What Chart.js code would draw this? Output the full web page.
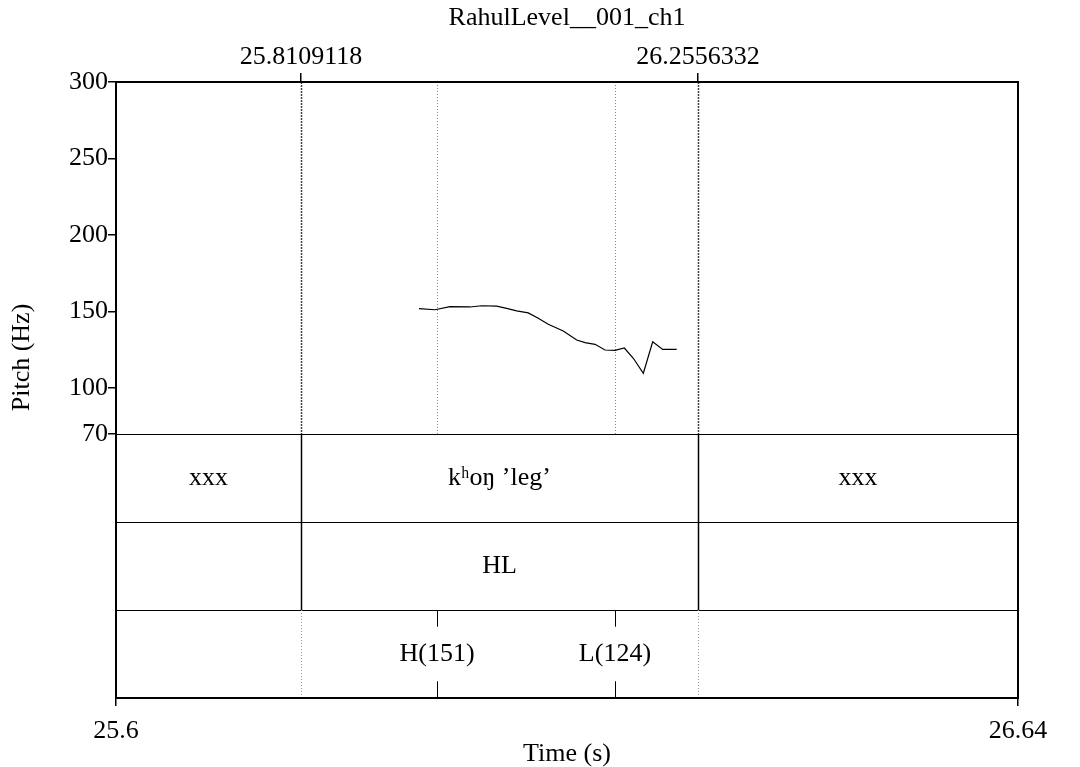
<!DOCTYPE html>
<html>
<head>
<meta charset="utf-8">
<script src="https://cdn.jsdelivr.net/npm/chart.js@4.4.1/dist/chart.umd.min.js"></script>
<style>
  html, body { margin: 0; padding: 0; background: #fff; }
  #wrap { width: 1080px; height: 767px; }
</style>
</head>
<body>
<div id="wrap"><canvas id="pitch"></canvas></div>
<script>
// sound / time window
const fileName = 'RahulLevel__001_ch1';
const timeStart = 25.6037;
const timeEnd = 26.6141;
const timeTickLabels = ['25.6', '26.64'];

// interval boundaries (shown on top axis)
const boundaryTimes = [25.8109118, 26.2556332];
const boundaryLabels = ['25.8109118', '26.2556332'];

// pitch ticks
const pitchTicks = [70, 100, 150, 200, 250, 300];

// pitch contour
const pitchTimes = [25.9431, 25.9610, 25.9778, 26.0002, 26.0133, 26.0301, 26.0413, 26.0525,
  26.0655, 26.0767, 26.0879, 26.1047, 26.1198, 26.1291, 26.1403, 26.1515, 26.1627, 26.1731,
  26.1832, 26.1944, 26.2049, 26.2161, 26.2318];
const pitchHz = [151.9, 151.2, 153.2, 153.0, 153.8, 153.6, 152.1, 150.4, 149.1, 145.6, 141.7,
  137.3, 131.4, 129.7, 128.6, 124.9, 124.7, 126.2, 119.5, 109.7, 130.3, 125.3, 125.3];

// textgrid tiers
const wordLabels = ['xxx', 'k\u02B0o\u014B \u2019leg\u2019', 'xxx'];
const toneLabels = ['', 'HL', ''];
const pointTimes = [25.9633, 26.1626];
const pointLabels = ['H(151)', 'L(124)'];

const FONT = '"Liberation Serif", "Times New Roman", serif';
const pitchBottom = 70;
const tierSpan = 57.5;   // y units per tier row
const tierCount = 3;

Chart.defaults.font.family = FONT;
Chart.defaults.font.size = 26;
Chart.defaults.color = '#000';

const crisp = v => Math.round(v) + 0.5;

const textgrid = {
  id: 'textgrid',
  beforeDatasetsDraw(chart) {
    const {ctx, chartArea} = chart;
    const x = chart.scales.x, y = chart.scales.y;
    const yTop = chartArea.top, y70 = y.getPixelForValue(pitchBottom);
    ctx.save();
    // boundaries over the pitch area
    ctx.strokeStyle = '#444';
    ctx.lineWidth = 1.5;
    ctx.setLineDash([2, 1]);
    boundaryTimes.forEach(t => {
      const px = crisp(x.getPixelForValue(t));
      ctx.beginPath(); ctx.moveTo(px, yTop); ctx.lineTo(px, y70); ctx.stroke();
    });
    // points over the pitch area
    ctx.strokeStyle = '#888';
    ctx.lineWidth = 1;
    ctx.setLineDash([1, 2]);
    pointTimes.forEach(t => {
      const px = crisp(x.getPixelForValue(t));
      ctx.beginPath(); ctx.moveTo(px, yTop); ctx.lineTo(px, y70); ctx.stroke();
    });
    ctx.restore();
  },
  afterDraw(chart) {
    const {ctx, chartArea} = chart;
    const x = chart.scales.x, y = chart.scales.y;
    const rows = [];
    for (let i = 0; i <= tierCount; i++) rows.push(y.getPixelForValue(pitchBottom - i * tierSpan));
    const edges = [timeStart, ...boundaryTimes, timeEnd].map(t => x.getPixelForValue(t));
    ctx.save();
    // tier separators
    ctx.strokeStyle = '#000';
    ctx.lineWidth = 1;
    for (let i = 0; i < tierCount; i++) {
      const py = crisp(rows[i]);
      ctx.beginPath(); ctx.moveTo(chartArea.left, py); ctx.lineTo(chartArea.right, py); ctx.stroke();
    }
    // interval boundaries in tiers 1 and 2
    ctx.lineWidth = 1.5;
    boundaryTimes.forEach(t => {
      const px = crisp(x.getPixelForValue(t));
      ctx.beginPath(); ctx.moveTo(px, rows[0]); ctx.lineTo(px, rows[2]); ctx.stroke();
    });
    // boundaries carried through point tier
    ctx.strokeStyle = '#999';
    ctx.lineWidth = 1;
    ctx.setLineDash([1, 2]);
    boundaryTimes.forEach(t => {
      const px = crisp(x.getPixelForValue(t));
      ctx.beginPath(); ctx.moveTo(px, rows[2]); ctx.lineTo(px, rows[3]); ctx.stroke();
    });
    ctx.setLineDash([]);
    // point marks
    ctx.strokeStyle = '#000';
    const mark = (rows[3] - rows[2]) * 0.19;
    pointTimes.forEach(t => {
      const px = crisp(x.getPixelForValue(t));
      ctx.beginPath();
      ctx.moveTo(px, rows[2]); ctx.lineTo(px, rows[2] + mark);
      ctx.moveTo(px, rows[3]); ctx.lineTo(px, rows[3] - mark);
      ctx.stroke();
    });
    // labels
    ctx.fillStyle = '#000';
    ctx.font = '26px ' + FONT;
    ctx.textAlign = 'center';
    ctx.textBaseline = 'middle';
    const mid = (a, b) => (a + b) / 2;
    wordLabels.forEach((s, i) => ctx.fillText(s, mid(edges[i], edges[i + 1]), mid(rows[0], rows[1])));
    toneLabels.forEach((s, i) => { if (s) ctx.fillText(s, mid(edges[i], edges[i + 1]), mid(rows[1], rows[2])); });
    pointLabels.forEach((s, i) => ctx.fillText(s, x.getPixelForValue(pointTimes[i]), mid(rows[2], rows[3])));
    // y axis title
    ctx.save();
    ctx.translate(22, y.getPixelForValue(120));
    ctx.rotate(-Math.PI / 2);
    ctx.fillText('Pitch (Hz)', 0, 0);
    ctx.restore();
    // frame
    ctx.lineWidth = 2;
    ctx.strokeRect(chartArea.left, chartArea.top, chartArea.right - chartArea.left, chartArea.bottom - chartArea.top);
    ctx.restore();
  }
};

new Chart(document.getElementById('pitch'), {
  type: 'line',
  data: {
    datasets: [{
      label: 'Pitch',
      data: pitchTimes.map((t, i) => ({x: t, y: pitchHz[i]})),
      borderColor: '#000',
      borderWidth: 1.2,
      pointRadius: 0,
      tension: 0,
      xAxisID: 'x',
      yAxisID: 'y'
    }]
  },
  options: {
    responsive: true,
    maintainAspectRatio: false,
    animation: false,
    events: [],
    layout: { padding: { left: 0, right: 62, top: 0, bottom: 0 } },
    plugins: {
      legend: { display: false },
      tooltip: { enabled: false },
      title: {
        display: true,
        fullSize: false,
        text: fileName,
        font: { size: 26, weight: 'normal', lineHeight: 1.2 },
        padding: { top: 3, bottom: 0 },
        color: '#000'
      }
    },
    scales: {
      x: {
        type: 'linear',
        position: 'bottom',
        min: timeStart,
        max: timeEnd,
        afterBuildTicks: s => { s.ticks = [timeStart, timeEnd].map(v => ({value: v})); },
        afterFit: s => { s.height = 69; },
        ticks: {
          padding: 10,
          maxRotation: 0,
          autoSkip: false,
          callback: (v, i) => timeTickLabels[i]
        },
        grid: { drawOnChartArea: false, tickLength: 8, color: '#000', lineWidth: 1.5 },
        border: { display: false },
        title: { display: true, text: 'Time (s)', padding: { top: 0, bottom: 0 }, font: { lineHeight: 1.0 } }
      },
      xTop: {
        type: 'linear',
        position: 'top',
        min: timeStart,
        max: timeEnd,
        afterBuildTicks: s => { s.ticks = boundaryTimes.map(v => ({value: v})); },
        afterFit: s => { s.height = 47.8; },
        ticks: {
          padding: 0,
          maxRotation: 0,
          autoSkip: false,
          callback: (v, i) => boundaryLabels[i]
        },
        grid: { drawOnChartArea: false, tickLength: 9, color: '#000', lineWidth: 1.5 },
        border: { display: false }
      },
      y: {
        type: 'linear',
        position: 'left',
        min: pitchBottom - tierCount * tierSpan,
        max: 300,
        afterBuildTicks: s => { s.ticks = pitchTicks.map(v => ({value: v})); },
        afterFit: s => { s.width = 116; },
        ticks: { padding: 0, autoSkip: false, callback: v => String(v) },
        grid: { drawOnChartArea: false, tickLength: 8, color: '#000', lineWidth: 1.5 },
        border: { display: false }
      }
    }
  },
  plugins: [textgrid]
});
</script>
</body>
</html>
